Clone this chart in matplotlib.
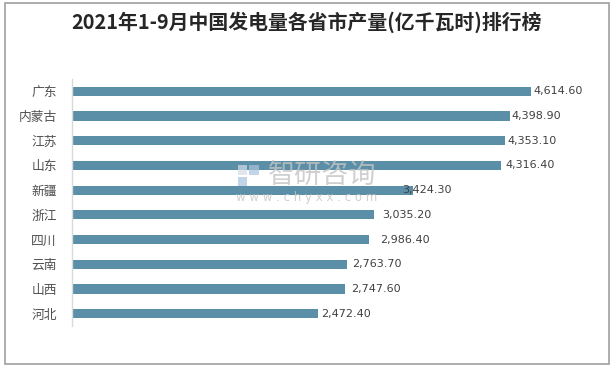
import matplotlib
matplotlib.use("Agg")
import matplotlib.pyplot as plt
from matplotlib.patches import Rectangle
import matplotlib.transforms as mtransforms

plt.rcParams['font.family'] = ['Noto Sans CJK SC', 'DejaVu Sans']

title = "2021年1-9月中国发电量各省市产量(亿千瓦时)排行榜"
provinces = ["广东", "内蒙古", "江苏", "山东", "新疆", "浙江", "四川", "云南", "山西", "河北"]
values = [4614.6, 4398.9, 4353.1, 4316.4, 3424.3, 3035.2, 2986.4, 2763.7, 2747.6, 2472.4]
value_labels = ["4,614.60", "4,398.90", "4,353.10", "4,316.40", "3,424.30",
                "3,035.20", "2,986.40", "2,763.70", "2,747.60", "2,472.40"]
# label horizontal offsets in points (style)
label_dx = [2, 1, 2, 3, -7.5, 6, 8, 4, 4, 2]

W, H = 613, 368
fig = plt.figure(figsize=(W / 100, H / 100), dpi=100)
fig.patch.set_facecolor("white")

# outer border
fig.add_artist(Rectangle((4.5 / W, 4.5 / H), 604 / W, 361 / H, transform=fig.transFigure,
                         fill=False, edgecolor="#a0a0a0", linewidth=1.2))

ax = fig.add_axes([72 / W, 42 / H, 497.5 / W, 247 / H])
bar_color = "#5B8FA7"
ypos = list(range(len(provinces)))
ax.barh(ypos, values, height=0.37, color=bar_color, zorder=2)
ax.set_ylim(len(provinces) - 0.5, -0.5)
ax.set_xlim(0, 5000)
ax.set_yticks(ypos)
ax.set_yticklabels(provinces, fontsize=9.2, color="#505050")
ax.tick_params(axis="y", length=0, pad=11)
ax.set_xticks([])
for s in ["top", "right", "bottom"]:
    ax.spines[s].set_visible(False)
ax.spines["left"].set_color("#d9d9d9")
ax.spines["left"].set_linewidth(1.0)

for y, v, lab, dx in zip(ypos, values, value_labels, label_dx):
    tr = mtransforms.offset_copy(ax.transData, fig=fig, x=dx, y=0, units="points")
    ax.text(v, y, lab, transform=tr, va="center", ha="left", fontsize=8,
            color="#404040", family="DejaVu Sans", zorder=3)

# watermark
wm = "#c4c4c4"
fig.text(322 / W, 1 - 175 / H, "智研咨询", ha="center", va="center", fontsize=19.5,
         color=wm, alpha=0.8, zorder=10)
fig.text(307 / W, 1 - 197 / H, "w w w . c h y x x . c o m", ha="center", va="center",
         fontsize=8.5, color=wm, alpha=0.8, zorder=10, family="DejaVu Sans")
logo_c = "#a9c3dd"
fig.add_artist(Rectangle((238 / W, 1 - 186 / H), 9 / W, 9 / H, transform=fig.transFigure,
                         facecolor=logo_c, edgecolor="none", alpha=0.7, zorder=10))
fig.add_artist(Rectangle((249 / W, 1 - 175 / H), 10 / W, 10 / H, transform=fig.transFigure,
                         facecolor=logo_c, edgecolor="none", alpha=0.7, zorder=10))
fig.add_artist(Rectangle((238 / W, 1 - 175 / H), 9 / W, 10 / H, transform=fig.transFigure,
                         facecolor="#d5dde6", edgecolor="none", alpha=0.7, zorder=10))

fig.text(0.5, 1 - 22 / H, title, ha="center", va="center", fontsize=14.3,
         fontweight="bold", color="#262626")

fig.savefig("out.png", dpi=100)
